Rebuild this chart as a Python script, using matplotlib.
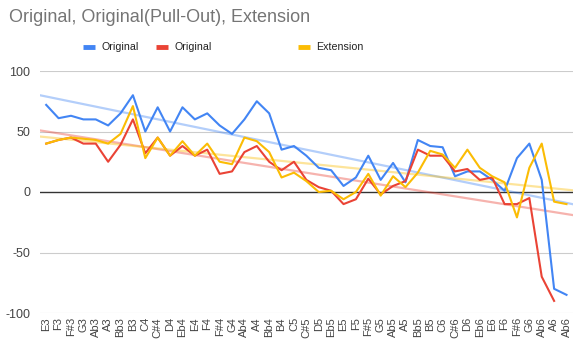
import numpy as np
import matplotlib
matplotlib.use("Agg")
import matplotlib.pyplot as plt
from matplotlib.lines import Line2D

plt.rcParams['font.family'] = ['Liberation Sans', 'DejaVu Sans']
plt.rcParams['axes.unicode_minus'] = False

# note names on the x axis
notes = ["E3", "F3", "F#3", "G3", "Ab3", "A3", "Bb3", "B3",
         "C4", "C#4", "D4", "Eb4", "E4", "F4", "F#4", "G4", "Ab4", "A4", "Bb4", "B4",
         "C5", "C#5", "D5", "Eb5", "E5", "F5", "F#5", "G5", "Ab5", "A5", "Bb5", "B5",
         "C6", "C#6", "D6", "Eb6", "E6", "F6", "F#6", "G6", "Ab6", "A6", "Ab6"]

original = [72, 61, 63, 60, 60, 55, 65, 80,
            50, 70, 50, 70, 60, 65, 55, 48, 60, 75, 65, 35,
            38, 30, 20, 18, 5, 12, 30, 10, 24, 8, 43, 38,
            37, 13, 17, 17, 10, 1, 28, 40, 10, -80, -85]
pull_out = [40, 43, 45, 40, 40, 25, 39, 60,
            32, 45, 30, 38, 30, 35, 15, 17, 33, 38, 25, 18,
            25, 10, 4, 1, -10, -6, 11, -2, 5, 9, 35, 30,
            30, 17, 19, 10, 12, -10, -10, -5, -70, -90, np.nan]
extension = [40, 43, 45, 44, 43, 40, 48, 71,
             28, 45, 30, 42, 30, 40, 25, 23, 45, 42, 33, 12,
             16, 9, 0, 1, -6, 0, 15, -3, 13, 4, 16, 34,
             31, 20, 35, 20, 13, 8, -21, 20, 40, -8, -10]

series = [("Original", original, "#4285F4"),
          ("Original", pull_out, "#EA4335"),
          ("Extension", extension, "#FBBC04")]

fig = plt.figure(figsize=(5.84, 3.53), dpi=100)
ax = fig.add_axes([40/584, 1-313/353, 532.7/584, 242/353])

x = np.arange(len(notes))
xx = np.array([-0.5, len(notes) - 0.5])

# gridlines
for g in [100, 50, -50, -100]:
    ax.axhline(g, color="#cccccc", lw=0.8, zorder=0)
ax.axhline(0, color="#333333", lw=1.0, zorder=1)

# trend lines first (behind)
for name, vals, col in series:
    v = np.array(vals, dtype=float)
    ok = ~np.isnan(v)
    k, b = np.polyfit(x[ok], v[ok], 1)
    ax.plot(xx, k*xx + b, color=col, alpha=0.4, lw=1.6, zorder=2)

for name, vals, col in series:
    ax.plot(x, vals, color=col, lw=1.5, zorder=3)

ax.set_xlim(-0.5, len(notes) - 0.5)
ax.set_ylim(-100, 100)
ax.set_yticks([-100, -50, 0, 50, 100])
ax.set_xticks(x)
ax.set_xticklabels(notes, rotation=90, fontsize=8, color="#444444")
ax.tick_params(axis='y', length=0, pad=7, labelsize=9, labelcolor="#444444")
ax.tick_params(axis='x', length=0, pad=3)
for s in ax.spines.values():
    s.set_visible(False)

fig.text(9/584, 1-18/353, "Original, Original(Pull-Out), Extension",
         fontsize=13, color="#757575", va="center", ha="left")

# legend drawn by hand to keep google-style spacing
leg = [(83, 102, "Original", "#4285F4"),
       (156, 174, "Original", "#EA4335"),
       (298, 316.5, "Extension", "#FBBC04")]
ly = 1 - 46.5/353
for x0, tx, label, col in leg:
    fig.add_artist(Line2D([x0/584, (x0+12)/584], [ly, ly], color=col, lw=3.5,
                          solid_capstyle='butt'))
    fig.text(tx/584, ly, label, fontsize=7.7, color="#222222", va="center", ha="left")

fig.savefig("out.png", dpi=100)
